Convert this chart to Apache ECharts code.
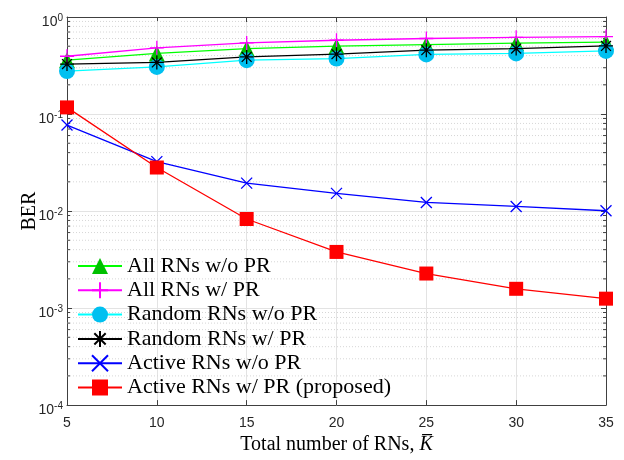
<!DOCTYPE html>
<html>
<head>
<meta charset="utf-8">
<script src="https://cdn.jsdelivr.net/npm/echarts@6/dist/echarts.min.js"></script>
<style>html,body{margin:0;padding:0;background:#fff}#c{width:624px;height:460px}</style>
</head>
<body>
<div id="c"></div>
<script>
var K = [5, 10, 15, 20, 25, 30, 35];
var allNoPR = [0.359, 0.421, 0.473, 0.500, 0.520, 0.537, 0.550];
var allPR = [0.394, 0.481, 0.541, 0.576, 0.600, 0.618, 0.629];
var randNoPR = [0.277, 0.306, 0.359, 0.373, 0.411, 0.421, 0.447];
var randPR = [0.327, 0.340, 0.388, 0.414, 0.455, 0.473, 0.503];
var activeNoPR = [0.077, 0.0323, 0.0194, 0.0152, 0.01226, 0.01115, 0.01007];
var activePR = [0.117, 0.0281, 0.00828, 0.00379, 0.00227, 0.00158, 0.00125];
var names = ['All RNs w/o PR', 'All RNs w/ PR', 'Random RNs w/o PR', 'Random RNs w/ PR', 'Active RNs w/o PR', 'Active RNs w/ PR (proposed)'];
var xTicks = [5, 10, 15, 20, 25, 30, 35];
var yMin = 1e-4, yMax = 1;
var decades = [1e-4, 1e-3, 1e-2, 1e-1];
var mult = [2, 3, 4, 5, 6, 7, 8, 9];

var minorVals = [];
decades.forEach(function (d) { mult.forEach(function (m) { minorVals.push([m * d]); }); });

function pairs(ys) { return K.map(function (k, i) { return [k, ys[i]]; }); }

var AX = '#404040';
var PLUS = 'path://M5,0L5,10M0,5L10,5';
var CROSS = 'path://M0,0L10,10M0,10L10,0';
var STAR = 'path://M5,0L5,10M0,5L10,5M1.46,1.46L8.54,8.54M1.46,8.54L8.54,1.46';

function mk(name, data, lineColor, symbol, size, fill, border, bw) {
  return {
    name: name, type: 'line', data: pairs(data),
    symbol: symbol, symbolSize: size,
    lineStyle: { color: lineColor, width: 1.3 },
    itemStyle: { color: fill, borderColor: border, borderWidth: bw },
    emphasis: { disabled: true }, animation: false, z: 3
  };
}

var chart = echarts.init(document.getElementById('c'), null, { renderer: 'canvas' });
var supStyle = {
  b: { fontFamily: 'Liberation Sans', fontSize: 14, color: '#262626', verticalAlign: 'bottom', lineHeight: 16 },
  s: { fontFamily: 'Liberation Sans', fontSize: 10, color: '#262626', verticalAlign: 'top', lineHeight: 16 }
};
chart.setOption({
  animation: false,
  grid: { left: 67, right: 18, top: 17, bottom: 54, containLabel: false },
  legend: {
    data: names, orient: 'vertical', left: 72, top: 249,
    itemWidth: 44, itemHeight: 20, itemGap: 0.3,
    textStyle: { fontFamily: 'Liberation Serif', fontSize: 22, lineHeight: 24, color: '#000' },
    selectedMode: false
  },
  xAxis: [{
    type: 'value', min: 5, max: 35, interval: 5,
    name: '{t|Total number of RNs, }{k|K\u0305}', nameLocation: 'middle', nameGap: 28,
    nameTextStyle: { rich: {
      t: { fontFamily: 'Liberation Serif', fontSize: 20, color: '#000' },
      k: { fontFamily: 'Liberation Serif', fontStyle: 'italic', fontSize: 20, color: '#000' }
    } },
    axisLine: { show: true, lineStyle: { color: AX, width: 1 } },
    axisTick: { show: true, inside: true, length: 5, lineStyle: { color: AX } },
    axisLabel: { fontFamily: 'Liberation Sans', fontSize: 14, color: '#262626', margin: 11 },
    splitLine: { show: true, lineStyle: { color: '#e3e3e3', width: 1 } }
  }, {
    type: 'value', min: 5, max: 35, interval: 5, position: 'top',
    axisLine: { show: true, lineStyle: { color: AX, width: 1 } },
    axisTick: { show: true, inside: true, length: 5, lineStyle: { color: AX } },
    axisLabel: { show: false }, splitLine: { show: false }
  }],
  yAxis: [{
    type: 'log', logBase: 10, min: yMin, max: yMax,
    name: 'BER', nameLocation: 'middle', nameGap: 27, nameMoveOverlap: false,
    nameTextStyle: { fontFamily: 'Liberation Serif', fontSize: 20, color: '#000' },
    axisLine: { show: true, lineStyle: { color: AX, width: 1 } },
    axisTick: { show: true, inside: true, length: 5, lineStyle: { color: AX } },
    axisLabel: {
      margin: 4, rich: supStyle, padding: [8, 0, 0, 0],
      formatter: function (v) {
        var e = Math.round(Math.log10(v));
        return '{b|10}{s|' + (e < 0 ? '-' + (-e) : e) + '}';
      }
    },
    splitLine: { show: true, lineStyle: { color: '#e3e3e3', width: 1 } }
  }, {
    type: 'log', logBase: 10, min: yMin, max: yMax, position: 'right',
    axisLine: { show: true, lineStyle: { color: AX, width: 1 } },
    axisTick: { show: true, inside: true, length: 5, lineStyle: { color: AX } },
    axisLabel: { show: false }, splitLine: { show: false }
  }],
  series: [
    {
      type: 'custom', name: 'minor', silent: true, z: 1, animation: false,
      data: minorVals, clip: false,
      renderItem: function (params, api) {
        var v = api.value(0);
        var p0 = api.coord([5, v]);
        var p1 = api.coord([35, v]);
        var y = p0[1];
        return {
          type: 'group', children: [
            { type: 'line', shape: { x1: p0[0], y1: y, x2: p1[0], y2: y },
              style: { stroke: '#d6d6d6', lineWidth: 1, lineDash: [1, 2] } },
            { type: 'line', shape: { x1: p0[0], y1: y, x2: p0[0] + 3, y2: y },
              style: { stroke: AX, lineWidth: 1 } },
            { type: 'line', shape: { x1: p1[0] - 3, y1: y, x2: p1[0], y2: y },
              style: { stroke: AX, lineWidth: 1 } }
          ]
        };
      }
    },
    mk(names[0], allNoPR, '#00ff00', 'triangle', 16, '#00c000', '#00c000', 0),
    mk(names[1], allPR, '#ff00ff', PLUS, 14, 'none', '#ff00ff', 1.3),
    mk(names[2], randNoPR, '#00ffff', 'circle', 16, '#00c0f0', '#00c0f0', 0),
    mk(names[3], randPR, '#000000', STAR, 14, 'none', '#000000', 1.3),
    mk(names[4], activeNoPR, '#0000ff', CROSS, 11, 'none', '#0000ff', 1.3),
    mk(names[5], activePR, '#ff0000', 'rect', 14, '#ff0000', '#ff0000', 0)
  ]
});
</script>
</body>
</html>
